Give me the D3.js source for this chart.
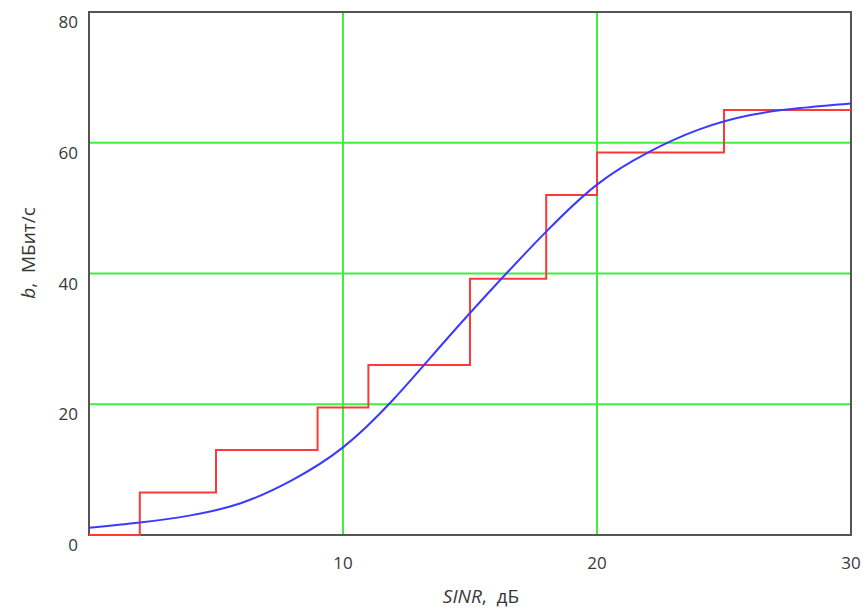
<!DOCTYPE html>
<html>
<head>
<meta charset="utf-8">
<script src="https://cdn.jsdelivr.net/npm/d3@7"></script>
<style>
  html, body { margin: 0; padding: 0; background: #fff; }
  svg { display: block; }
  text { font-family: "Open Sans", "Noto Sans", sans-serif; fill: #383838; }
</style>
</head>
<body>
<svg id="chart" width="867" height="614"></svg>
<script>
// Stepped throughput: SINR threshold (dB) where each rate level starts, and its rate (Mbit/s)
const stepSinr = [0, 2, 5, 9, 11, 15, 18, 20, 25, 30];
const stepRate = [0, 6.5, 13, 19.5, 26, 39.2, 52, 58.5, 65, 65];

// Smooth approximation curve samples (SINR dB, Mbit/s)
const curveSinr = [0, 2, 4, 6, 8, 10, 12, 14, 16, 18, 20, 22, 24, 26, 28, 30];
const curveRate = [1.1, 1.9, 3.0, 4.9, 8.4, 13.4, 20.8, 29.6, 38.2, 46.4, 53.6, 58.5, 62.0, 64.2, 65.3, 66.0];

// Axis ticks
const xTicks = [10, 20, 30];
const yTicks = [0, 20, 40, 60, 80];
const xGrid = [10, 20];
const yGrid = [20, 40, 60];

const svg = d3.select("#chart");
const m = { left: 89, right: 16, top: 12, bottom: 79 };
const W = 867, H = 614;

const x = d3.scaleLinear().domain([0, 30]).range([m.left, W - m.right]);
const y = d3.scaleLinear().domain([0, 80]).range([H - m.bottom, m.top]);

// Grid
svg.append("g").selectAll("line").data(xGrid).join("line")
  .attr("x1", d => x(d)).attr("x2", d => x(d))
  .attr("y1", y(0)).attr("y2", y(80))
  .attr("stroke", "#3ef03e").attr("stroke-width", 2);
svg.append("g").selectAll("line").data(yGrid).join("line")
  .attr("x1", x(0)).attr("x2", x(30))
  .attr("y1", d => y(d)).attr("y2", d => y(d))
  .attr("stroke", "#3ef03e").attr("stroke-width", 2);

// Frame
svg.append("rect")
  .attr("x", x(0)).attr("y", y(80))
  .attr("width", x(30) - x(0)).attr("height", y(0) - y(80))
  .attr("fill", "none").attr("stroke", "#555").attr("stroke-width", 2);

// Step line
const steps = stepSinr.map((s, i) => [s, stepRate[i]]);
svg.append("path")
  .datum(steps)
  .attr("fill", "none")
  .attr("stroke", "#ff3838")
  .attr("stroke-width", 2)
  .attr("d", d3.line().x(d => x(d[0])).y(d => y(d[1])).curve(d3.curveStepAfter));

// Smooth curve
const curve = curveSinr.map((s, i) => [s, curveRate[i]]);
svg.append("path")
  .datum(curve)
  .attr("fill", "none")
  .attr("stroke", "#3a3aff")
  .attr("stroke-width", 2)
  .attr("d", d3.line().x(d => x(d[0])).y(d => y(d[1])).curve(d3.curveNatural));

// Tick labels
svg.append("g").selectAll("text").data(yTicks).join("text")
  .attr("x", m.left - 11)
  .attr("y", d => y(d) + 16)
  .attr("text-anchor", "end")
  .attr("font-size", 17)
  .text(d => d);

svg.append("g").selectAll("text").data(xTicks).join("text")
  .attr("x", d => x(d))
  .attr("y", H - m.bottom + 34)
  .attr("text-anchor", "middle")
  .attr("font-size", 17)
  .text(d => d);

// Axis titles
const xt = svg.append("text")
  .attr("x", 481).attr("y", 603)
  .attr("text-anchor", "middle")
  .attr("font-size", 19);
xt.append("tspan").attr("font-style", "italic").text("SINR");
xt.append("tspan").text(",\u00a0 дБ");

const yt = svg.append("text")
  .attr("transform", "translate(35,253) rotate(-90)")
  .attr("text-anchor", "middle")
  .attr("font-size", 19);
yt.append("tspan").attr("font-style", "italic").text("b");
yt.append("tspan").text(",\u00a0 МБит/с");
</script>
</body>
</html>
